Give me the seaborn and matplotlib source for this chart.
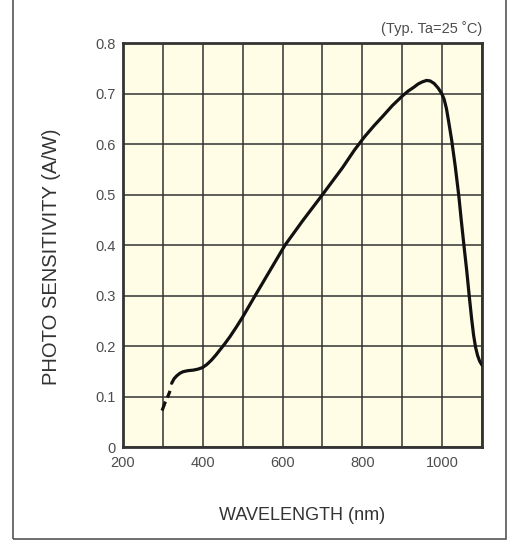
import matplotlib
matplotlib.use("Agg")
import matplotlib.pyplot as plt
import seaborn as sns
import pandas as pd
from matplotlib.patches import Rectangle

# Photo sensitivity curve
# dashed part (UV region, below ~320 nm)
uv_wavelength = [298, 306, 313, 318]
uv_sensitivity = [0.073, 0.090, 0.102, 0.112]

# solid part
wavelength = [322, 328, 335, 343, 351, 363, 376, 388, 399, 410, 422, 433, 443, 455,
              468, 484, 500, 531, 570, 606, 650, 700, 750, 780, 805, 830, 850, 875,
              900, 915, 930, 940, 950, 961, 970, 980, 990, 999, 1005, 1011, 1017,
              1024, 1033, 1042, 1048, 1055, 1062, 1068, 1074, 1079, 1084, 1089,
              1094, 1100]
sensitivity = [0.127, 0.136, 0.142, 0.147, 0.150, 0.152, 0.153, 0.155, 0.158, 0.164,
               0.173, 0.183, 0.193, 0.205, 0.219, 0.238, 0.258, 0.300, 0.352, 0.400,
               0.448, 0.500, 0.553, 0.588, 0.614, 0.637, 0.654, 0.676, 0.695, 0.705,
               0.713, 0.719, 0.723, 0.726, 0.725, 0.720, 0.711, 0.700, 0.689, 0.670,
               0.642, 0.608, 0.556, 0.497, 0.450, 0.398, 0.348, 0.300, 0.255, 0.222,
               0.198, 0.182, 0.171, 0.163]

x_ticks = [200, 400, 600, 800, 1000]
y_ticks = [0, 0.1, 0.2, 0.3, 0.4, 0.5, 0.6, 0.7, 0.8]
y_tick_labels = ["0", "0.1", "0.2", "0.3", "0.4", "0.5", "0.6", "0.7", "0.8"]

sns.set_style("white")
plt.rcParams['font.family'] = ['Liberation Sans', 'DejaVu Sans']

fig = plt.figure(figsize=(5.14, 5.45), dpi=100)
ax = fig.add_axes([0.2393, 0.1789, 0.6984, 0.7422])
ax.set_facecolor('#fffde6')

df = pd.DataFrame({'wl': wavelength, 'sens': sensitivity})
df_uv = pd.DataFrame({'wl': uv_wavelength, 'sens': uv_sensitivity})

sns.lineplot(data=df, x='wl', y='sens', ax=ax, color='#111111', lw=2.3,
             estimator=None, sort=False, zorder=5)
sns.lineplot(data=df_uv, x='wl', y='sens', ax=ax, color='#111111', lw=2.3,
             estimator=None, sort=False, zorder=5)
ax.lines[-1].set_dashes([3.0, 1.4])
for ln in ax.lines:
    ln.set_solid_capstyle('round')
    ln.set_solid_joinstyle('round')

ax.set_xlim(200, 1100)
ax.set_ylim(0, 0.8)
ax.set_xticks(x_ticks)
ax.set_xticks(range(300, 1101, 100), minor=True)
ax.set_yticks(y_ticks)
ax.set_yticklabels(y_tick_labels)
ax.grid(True, which='both', color='#333333', lw=1.1, zorder=1)
ax.set_axisbelow(True)
ax.tick_params(axis='both', which='both', length=0, labelsize=10.5,
               labelcolor='#4d4d4d')
ax.tick_params(axis='x', pad=6)
ax.tick_params(axis='y', pad=5)
for s in ax.spines.values():
    s.set_visible(True)
    s.set_color('#333333')
    s.set_linewidth(2.0)
ax.set_xlabel('')
ax.set_ylabel('')

fig.text(302.5 / 514, 1 - 515 / 545, 'WAVELENGTH (nm)', ha='center', va='center',
         fontsize=13, color='#333333')
fig.text(52 / 514, 1 - 257 / 545, 'PHOTO SENSITIVITY (A/W)', ha='center', va='center',
         rotation=90, fontsize=14.5, color='#333333')
fig.text(482 / 514, 1 - 29 / 545, '(Typ. Ta=25 ˚C)', ha='right', va='center',
         fontsize=10.5, color='#4d4d4d')

# outer frame (top edge lies outside the image)
fig.patches.append(Rectangle((12.7 / 514, 1 - 539 / 545), (506 - 12.7) / 514, 1.2,
                             transform=fig.transFigure, fill=False,
                             edgecolor='#555555', lw=1.2))

fig.savefig('out.png', dpi=100)
